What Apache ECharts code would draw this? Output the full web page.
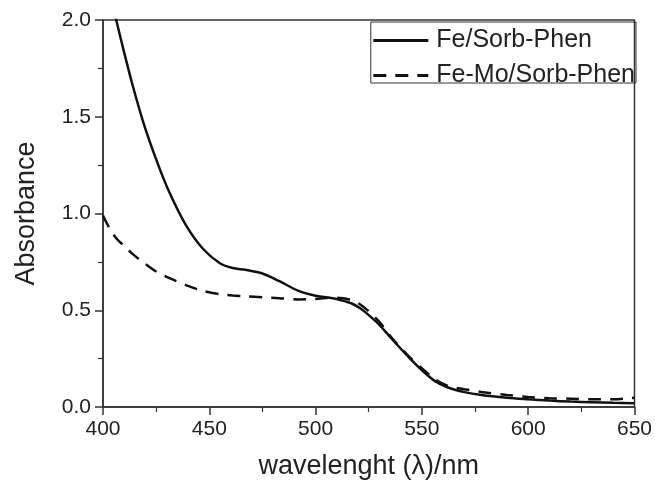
<!DOCTYPE html>
<html>
<head>
<meta charset="utf-8">
<script src="https://cdn.jsdelivr.net/npm/echarts@6/dist/echarts.min.js"></script>
<style>
html,body{margin:0;padding:0;background:#fff;}
#chart{width:655px;height:485px;}
</style>
</head>
<body>
<div id="chart"></div>
<script>
const wavelengths = [400, 403, 406, 410, 414, 419, 425, 431, 439, 447, 455, 461, 467, 475, 483, 492, 500, 508, 512, 517, 521, 525, 530, 536, 544, 550, 556, 562, 570, 578, 590, 600, 610, 620, 630, 640, 650];
const feSorbPhen = [2.30, 2.15, 2.01, 1.83, 1.66, 1.47, 1.28, 1.115, 0.94, 0.818, 0.743, 0.718, 0.709, 0.69, 0.65, 0.60, 0.575, 0.562, 0.552, 0.535, 0.51, 0.475, 0.425, 0.35, 0.255, 0.19, 0.135, 0.102, 0.077, 0.062, 0.048, 0.040, 0.033, 0.028, 0.025, 0.022, 0.020];
const feMoSorbPhen = [0.99, 0.925, 0.875, 0.832, 0.79, 0.747, 0.70, 0.667, 0.63, 0.60, 0.583, 0.576, 0.572, 0.567, 0.562, 0.556, 0.558, 0.566, 0.563, 0.552, 0.53, 0.495, 0.44, 0.355, 0.26, 0.2, 0.145, 0.11, 0.092, 0.078, 0.062, 0.052, 0.045, 0.043, 0.040, 0.040, 0.048];
const seriesNames = ['Fe/Sorb-Phen', 'Fe-Mo/Sorb-Phen'];
const xTitle = 'wavelenght (λ)/nm';
const yTitle = 'Absorbance';

const toPairs = (xs, ys) => xs.map((x, i) => [x, ys[i]]);
const font = 'Liberation Sans, Arial, sans-serif';
const axisColor = '#333';

const chart = echarts.init(document.getElementById('chart'), null, {renderer: 'canvas'});
chart.setOption({
  animation: false,
  backgroundColor: '#fff',
  grid: {left: 103, right: 19, top: 20, bottom: 75, show: true, borderColor: axisColor, borderWidth: 1.5, backgroundColor: 'transparent'},
  legend: {
    right: 19, top: 22, orient: 'vertical', itemWidth: 55, itemHeight: 14, itemGap: 10,
    padding: [6, 1, -5, 1],
    borderColor: axisColor, borderWidth: 1,
    itemStyle: {opacity: 0},
    lineStyle: {width: 3},
    textStyle: {fontFamily: font, fontSize: 25, lineHeight: 18, color: '#222', padding: [0, 0, 0, 3]},
    data: seriesNames
  },
  xAxis: {
    type: 'value', min: 400, max: 650, interval: 50,
    name: xTitle, nameLocation: 'middle', nameGap: 46,
    nameTextStyle: {fontFamily: font, fontSize: 27, color: '#222'},
    axisLine: {onZero: false, lineStyle: {color: axisColor, width: 1.5}},
    axisTick: {inside: false, length: 8, lineStyle: {color: axisColor, width: 1.5}},
    minorTick: {show: true, splitNumber: 2, length: 5, lineStyle: {color: axisColor, width: 1.2}},
    axisLabel: {fontFamily: font, fontSize: 21, color: '#222', margin: 12},
    splitLine: {show: false}
  },
  yAxis: {
    type: 'value', min: 0, max: 2, interval: 0.5,
    name: yTitle, nameLocation: 'middle', nameGap: 63,
    nameTextStyle: {fontFamily: font, fontSize: 27, color: '#222'},
    axisLine: {onZero: false, lineStyle: {color: axisColor, width: 1.5}},
    axisTick: {inside: false, length: 8, lineStyle: {color: axisColor, width: 1.5}},
    minorTick: {show: true, splitNumber: 2, length: 5, lineStyle: {color: axisColor, width: 1.2}},
    axisLabel: {fontFamily: font, fontSize: 21, color: '#222', margin: 12, formatter: v => v.toFixed(1)},
    splitLine: {show: false}
  },
  series: [
    {
      name: seriesNames[0], type: 'line', data: toPairs(wavelengths, feSorbPhen),
      smooth: 0.3, symbol: 'none', clip: true,
      lineStyle: {color: '#111', width: 2.5, type: 'solid'},
      itemStyle: {color: '#111'}
    },
    {
      name: seriesNames[1], type: 'line', data: toPairs(wavelengths, feMoSorbPhen),
      smooth: 0.3, symbol: 'none', clip: true,
      lineStyle: {color: '#111', width: 2.5, type: [13, 9]},
      itemStyle: {color: '#111'}
    }
  ]
});
</script>
</body>
</html>
